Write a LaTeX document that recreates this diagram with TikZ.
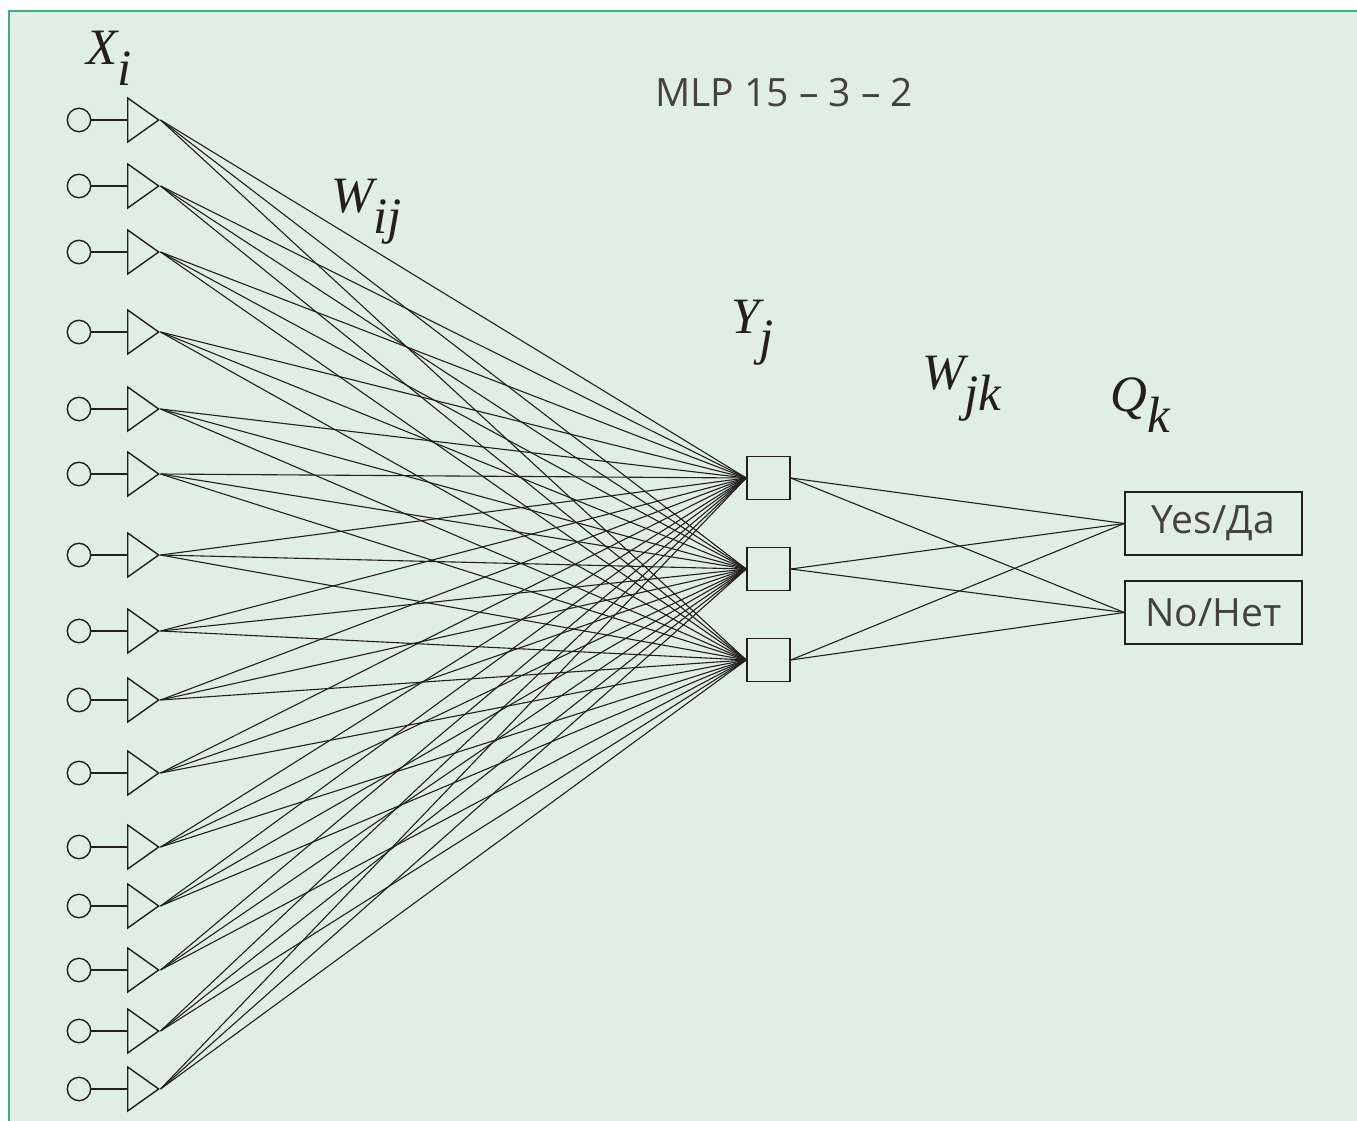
\documentclass[tikz,border=0pt]{standalone}
\usepackage{fontspec}
\setmainfont{Open Sans}
\newfontfamily\tmsfont{Liberation Serif}
\usetikzlibrary{shapes.geometric}
\definecolor{bgcol}{HTML}{E0EEE6}
\definecolor{framecol}{HTML}{45AB7E}
\definecolor{ink}{HTML}{231F20}
\newcommand\sublab[2]{{\tmsfont\itshape\fontsize{51}{56}\selectfont #1\raisebox{-21pt}{#2}}}
\tikzset{
  inputc/.style={circle,draw=ink,line width=1.4pt,minimum size=23.4pt,inner sep=0pt},
  amp/.style={isosceles triangle,isosceles triangle stretches,draw=ink,line width=1.4pt,
    minimum width=44pt,minimum height=31pt,inner sep=0pt,anchor=west},
  hid/.style={rectangle,draw=ink,line width=1.4pt,minimum size=43pt,inner sep=0pt},
  outbox/.style={rectangle,draw=ink,line width=1.4pt,minimum width=177pt,minimum height=63pt,inner sep=0pt,
    font=\fontsize{39}{46}\selectfont,text=ink!85},
  wire/.style={draw=ink,line width=1.1pt},
  lab/.style={anchor=base west,inner sep=0pt,text=ink}
}
\begin{document}
\begin{tikzpicture}[x=1pt,y=-1pt]
\useasboundingbox (0,0) rectangle (1357,1121);
\fill[bgcol] (9,11) rectangle (1357,1121);
\draw[framecol,line width=2pt] (9,1121) -- (9,11) -- (1357,11);
% input layer
\foreach \i/\y in {1/120,2/186,3/252,4/332,5/409,6/474,7/555,8/631,9/700,10/773,11/847,12/906,13/970,14/1031,15/1089}{
  \node[inputc] (c\i) at (79,\y) {};
  \node[amp] (t\i) at (127,\y) {};
  \draw[wire] (c\i.east) -- (t\i.west);
}
% hidden layer
\node[hid] (h1) at (768.5,478) {};
\node[hid] (h2) at (768.5,569) {};
\node[hid] (h3) at (768.5,660) {};
% output layer
\node[outbox] (o1) at (1213.5,523.5) {Yes/Да};
\node[outbox] (o2) at (1213.5,612.5) {No/Нет};
% connections
\foreach \i in {1,...,15}{
  \foreach \j in {1,2,3}{
    \draw[wire] (t\i.apex) -- (h\j.west);
  }
}
\foreach \j in {1,2,3}{
  \foreach \k in {1,2}{
    \draw[wire] (h\j.east) -- (o\k.west);
  }
}
% labels
\node[lab] (lx) at (86,65) {\sublab{X}{i}};
\node[lab] (lw1) at (331,212) {\sublab{W}{ij}};
\node[lab] (ly) at (731,333) {\sublab{Y}{j}};
\node[lab] (lw2) at (922,389) {\sublab{W}{jk}};
\node[lab] (lq) at (1110,411) {\sublab{Q}{k}};
\node[lab,text=ink!85,font=\fontsize{39}{46}\selectfont] (title) at (655,107) {MLP 15 – 3 – 2};
\end{tikzpicture}
\end{document}
